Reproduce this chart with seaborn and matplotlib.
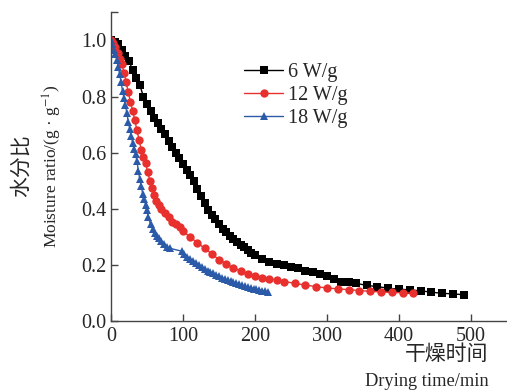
import numpy as np
import pandas as pd
import matplotlib
matplotlib.use("Agg")
import matplotlib.pyplot as plt
import seaborn as sns

# ---------------------------------------------------------------------------
# data (moisture ratio vs drying time)
# ---------------------------------------------------------------------------
t_6w = [0, 5, 10, 15, 20, 25, 30, 35, 40, 45, 50, 55, 60, 65, 70, 75, 80, 85,
        90, 95, 100, 105, 110, 115, 120, 125, 130, 135, 140, 145, 150, 155,
        160, 165, 170, 175, 180, 185, 190, 195, 200, 210, 220, 230, 240, 250,
        260, 270, 280, 290, 300, 310, 320, 330, 340, 355, 370, 385, 400, 415,
        430, 445, 460, 475, 490]
mr_6w = [1.00, 0.995, 0.985, 0.965, 0.945, 0.925, 0.895, 0.865, 0.84, 0.80,
         0.775, 0.75, 0.725, 0.705, 0.685, 0.665, 0.64, 0.62, 0.60, 0.58,
         0.56, 0.54, 0.52, 0.50, 0.47, 0.445, 0.42, 0.395, 0.38, 0.365,
         0.345, 0.33, 0.318, 0.305, 0.293, 0.283, 0.273, 0.263, 0.253,
         0.244, 0.235, 0.222, 0.213, 0.206, 0.20, 0.195, 0.19, 0.18, 0.175,
         0.167, 0.16, 0.15, 0.142, 0.14, 0.136, 0.128, 0.124, 0.118, 0.115,
         0.112, 0.109, 0.104, 0.10, 0.098, 0.095]

t_12w = [0, 3, 6, 9, 12, 15, 18, 21, 24, 27, 30, 33, 36, 39, 42, 45, 48, 51,
         54, 57, 60, 63, 66, 70, 75, 80, 85, 90, 96, 100, 110, 120, 130, 140,
         150, 160, 170, 180, 190, 200, 210, 220, 230, 240, 255, 270, 285, 300,
         315, 330, 345, 360, 375, 390, 405, 420]
mr_12w = [1.00, 0.99, 0.975, 0.955, 0.935, 0.915, 0.885, 0.85, 0.815, 0.78,
          0.75, 0.715, 0.68, 0.645, 0.61, 0.585, 0.565, 0.53, 0.50, 0.475,
          0.45, 0.43, 0.415, 0.40, 0.385, 0.37, 0.355, 0.345, 0.335, 0.32,
          0.30, 0.28, 0.26, 0.24, 0.22, 0.205, 0.19, 0.18, 0.17, 0.162, 0.156,
          0.152, 0.147, 0.142, 0.136, 0.129, 0.124, 0.119, 0.116, 0.113,
          0.11, 0.107, 0.105, 0.103, 0.102, 0.10]

t_18w = [0, 2, 4, 6, 8, 10, 12, 14, 16, 18, 20, 22, 24, 26, 28, 30, 32, 34,
         36, 38, 40, 42, 44, 46, 48, 50, 52, 55, 58, 61, 64, 67, 70, 74, 78,
         82, 98, 102, 106, 110, 114, 118, 122, 126, 130, 134, 138, 142, 146,
         150, 154, 158, 162, 166, 170, 174, 178, 182, 186, 190, 194, 198, 202,
         206, 210, 214, 218]
mr_18w = [1.00, 0.985, 0.965, 0.95, 0.93, 0.905, 0.88, 0.85, 0.82, 0.795,
          0.77, 0.74, 0.71, 0.685, 0.66, 0.635, 0.615, 0.595, 0.57, 0.535,
          0.505, 0.48, 0.455, 0.435, 0.415, 0.395, 0.37, 0.345, 0.33, 0.315,
          0.305, 0.295, 0.285, 0.275, 0.265, 0.26, 0.25, 0.24, 0.23, 0.222,
          0.214, 0.207, 0.2, 0.194, 0.187, 0.181, 0.176, 0.171, 0.166, 0.161,
          0.156, 0.151, 0.147, 0.143, 0.139, 0.135, 0.132, 0.128, 0.125,
          0.122, 0.119, 0.117, 0.114, 0.112, 0.11, 0.108, 0.106]

labels = ["6 W/g", "12 W/g", "18 W/g"]
colors = ["#000000", "#e8312e", "#2b5ba8"]
markers = ["s", "o", "^"]
x_ticks = [0, 100, 200, 300, 400, 500]
y_ticks = [0.0, 0.2, 0.4, 0.6, 0.8, 1.0]

df = pd.concat([
    pd.DataFrame({"t": t_6w, "mr": mr_6w, "power": labels[0]}),
    pd.DataFrame({"t": t_12w, "mr": mr_12w, "power": labels[1]}),
    pd.DataFrame({"t": t_18w, "mr": mr_18w, "power": labels[2]}),
], ignore_index=True)

# ---------------------------------------------------------------------------
# style
# ---------------------------------------------------------------------------
sns.set_style("ticks")
plt.rcParams["font.family"] = ["Liberation Serif", "Noto Sans CJK SC"]
plt.rcParams["mathtext.fontset"] = "stix"
plt.rcParams["font.size"] = 14

fig = plt.figure(figsize=(5.07, 3.92), dpi=100)
ax = fig.add_axes([0.219, 0.18, 0.781, 0.789])

sns.lineplot(data=df, x="t", y="mr", hue="power", style="power",
             hue_order=labels, style_order=labels, palette=colors,
             markers=markers, dashes=False, estimator=None, sort=False,
             linewidth=1.0, markersize=6, markeredgewidth=0, ax=ax)

ax.set_xlim(0, 550)
ax.set_ylim(0, 1.1)
ax.set_xticks(x_ticks)
ax.set_yticks(y_ticks + [1.1])
ax.set_yticklabels([f"{v:.1f}" for v in y_ticks] + [""])
ax.set_xlabel("")
ax.set_ylabel("")
for s in ["top", "right"]:
    ax.spines[s].set_visible(False)
for s in ["left", "bottom"]:
    ax.spines[s].set_color("#444444")
    ax.spines[s].set_linewidth(1.0)
ax.tick_params(direction="in", length=5, width=1, color="#444444",
               labelsize=14.5)
ax.tick_params(axis="y", pad=3)
ax.tick_params(axis="x", pad=4)

handles, _ = ax.get_legend_handles_labels()
ax.legend(handles[-3:], labels, loc="upper left",
          bbox_to_anchor=(244 / 507, 1 - 63 / 392),
          bbox_transform=fig.transFigure, frameon=False, fontsize=14.5,
          handlelength=1.95, handletextpad=0.25, labelspacing=0.2,
          borderaxespad=0, borderpad=0)

# axis titles (Chinese + English)
fig.text(22 / 507, 1 - 166 / 392, "水分比", rotation=90, ha="center",
         va="center", fontsize=15)
fig.text(52 / 507, 1 - 166 / 392, r"Moisture ratio/(g · g$^{-1}$)",
         rotation=90, ha="center", va="center", fontsize=12.5)
fig.text(488 / 507, 1 - 355 / 392, "干燥时间", ha="right", va="center",
         fontsize=15)
fig.text(489 / 507, 1 - 381 / 392, "Drying time/min", ha="right",
         va="center", fontsize=13.2)

plt.savefig("out.png", dpi=100)
